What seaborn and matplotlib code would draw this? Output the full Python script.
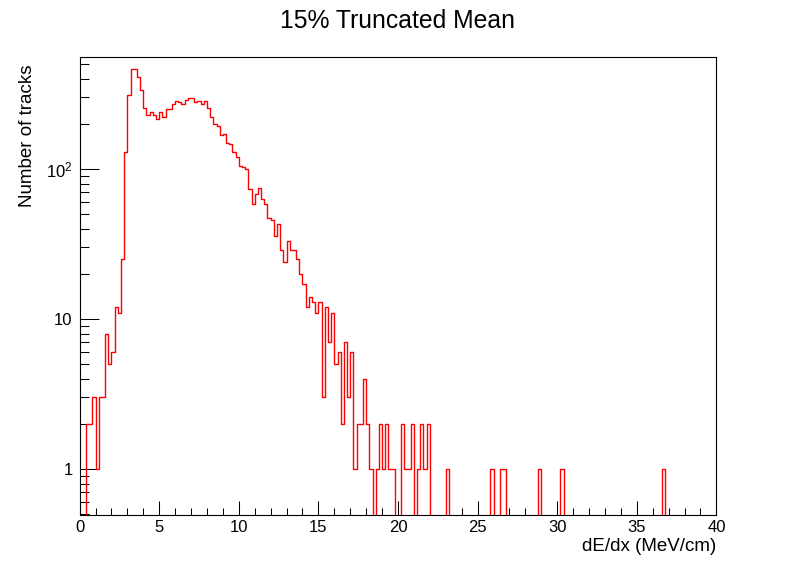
import numpy as np
import pandas as pd
import matplotlib
matplotlib.use("Agg")
import matplotlib.pyplot as plt
import matplotlib.ticker as mticker
import seaborn as sns

# ---- data ----
x_min, x_max, n_bins = 0.0, 40.0, 200
counts = [
    0, 0, 2, 2, 3, 1, 3, 3, 8, 5,                 # 0.0 - 2.0
    6, 12, 11, 25, 129, 310, 462, 462, 409, 336,  # 2.0 - 4.0
    254, 228, 239, 228, 214, 239, 221, 251, 251, 271,   # 4.0 - 6.0
    283, 280, 270, 287, 296, 296, 280, 285, 272, 285,   # 6.0 - 8.0
    254, 221, 200, 193, 168, 170, 148, 146, 129, 120,   # 8.0 - 10.0
    104, 103, 100, 73, 58, 68, 75, 63, 58, 47,          # 10.0 - 12.0
    46, 36, 43, 29, 24, 33, 29, 29, 25, 20,             # 12.0 - 14.0
    17, 12, 14, 13, 11, 13, 3, 12, 7, 11,               # 14.0 - 16.0
    5, 6, 2, 7, 3, 6, 1, 2, 2, 4,                       # 16.0 - 18.0
    2, 1, 0, 1, 2, 1, 2, 1, 1, 0,                       # 18.0 - 20.0
    0, 2, 1, 1, 2, 0, 1, 2, 1, 2,                       # 20.0 - 22.0
    0, 0, 0, 0, 0, 1, 0, 0, 0, 0,                       # 22.0 - 24.0
    0, 0, 0, 0, 0, 0, 0, 0, 0, 1,                       # 24.0 - 26.0
    0, 0, 1, 1, 0, 0, 0, 0, 0, 0,                       # 26.0 - 28.0
    0, 0, 0, 0, 1, 0, 0, 0, 0, 0,                       # 28.0 - 30.0
    0, 1, 0, 0, 0, 0, 0, 0, 0, 0,                       # 30.0 - 32.0
    0, 0, 0, 0, 0, 0, 0, 0, 0, 0,                       # 32.0 - 34.0
    0, 0, 0, 0, 0, 0, 0, 0, 0, 0,                       # 34.0 - 36.0
    0, 0, 0, 1, 0, 0, 0, 0, 0, 0,                       # 36.0 - 38.0
    0, 0, 0, 0, 0, 0, 0, 0, 0, 0,                       # 38.0 - 40.0
]
title = "15% Truncated Mean"
x_label = "dE/dx (MeV/cm)"
y_label = "Number of tracks"
x_ticks = [0, 5, 10, 15, 20, 25, 30, 35, 40]
y_ticks = [1, 10, 100]
y_tick_labels = ["1", "10", r"$\mathregular{10^{2}}$"]

# ---- figure ----
sns.set_theme(style="ticks")
plt.rcParams["font.family"] = ["Liberation Sans", "DejaVu Sans"]
plt.rcParams["mathtext.default"] = "regular"
plt.rcParams["text.color"] = "black"
plt.rcParams["axes.labelcolor"] = "black"
plt.rcParams["xtick.color"] = "black"
plt.rcParams["ytick.color"] = "black"
plt.rcParams["axes.edgecolor"] = "black"

bin_w = (x_max - x_min) / n_bins
centers = x_min + bin_w * (np.arange(n_bins) + 0.5)
df = pd.DataFrame({"dedx": centers, "n": np.asarray(counts, dtype=float)})

fig = plt.figure(figsize=(7.96, 5.72), dpi=100)
fig.patch.set_facecolor("white")
ax = fig.add_axes([0.1, 0.1, 0.8, 0.8])
ax.set_facecolor("white")

sns.histplot(data=df, x="dedx", weights="n", bins=n_bins,
             binrange=(x_min, x_max), element="step",
             fill=False, color="#ff0000", linewidth=1.0, ax=ax)

ax.set_yscale("log")
ax.set_xlim(x_min, x_max)
ax.set_ylim(0.495, 556)

ax.xaxis.set_major_locator(mticker.FixedLocator(x_ticks))
ax.xaxis.set_minor_locator(mticker.MultipleLocator(1))
ax.xaxis.set_major_formatter(mticker.FixedFormatter([str(t) for t in x_ticks]))
ax.yaxis.set_major_locator(mticker.FixedLocator(y_ticks))
ax.yaxis.set_major_formatter(mticker.FixedFormatter(y_tick_labels))
ax.yaxis.set_minor_locator(mticker.LogLocator(base=10, subs=np.arange(2, 10), numticks=20))
ax.yaxis.set_minor_formatter(mticker.NullFormatter())

for s in ax.spines.values():
    s.set_color("black")
    s.set_linewidth(0.8)
    s.set_visible(True)

ax.tick_params(axis="both", which="both", direction="in", colors="black",
               labelcolor="black", width=0.75, bottom=True, left=True,
               top=False, right=False, labelsize=12)
ax.tick_params(axis="x", which="major", length=10, pad=4)
ax.tick_params(axis="x", which="minor", length=5)
ax.tick_params(axis="y", which="major", length=13.7, pad=5)
ax.tick_params(axis="y", which="minor", length=6.8)

ax.set_xlabel(x_label, fontsize=13.5, ha="right", va="baseline", color="black")
ax.xaxis.set_label_coords(1.0, -0.08)
ax.set_ylabel(y_label, fontsize=13.5, ha="right", va="baseline", color="black")
ax.yaxis.set_label_coords(-0.0755, 0.985)

fig.text(0.5, 1 - 28 / 572, title, ha="center", va="baseline",
         fontsize=17.8, color="black")

fig.savefig("out.png", dpi=100, facecolor="white")
